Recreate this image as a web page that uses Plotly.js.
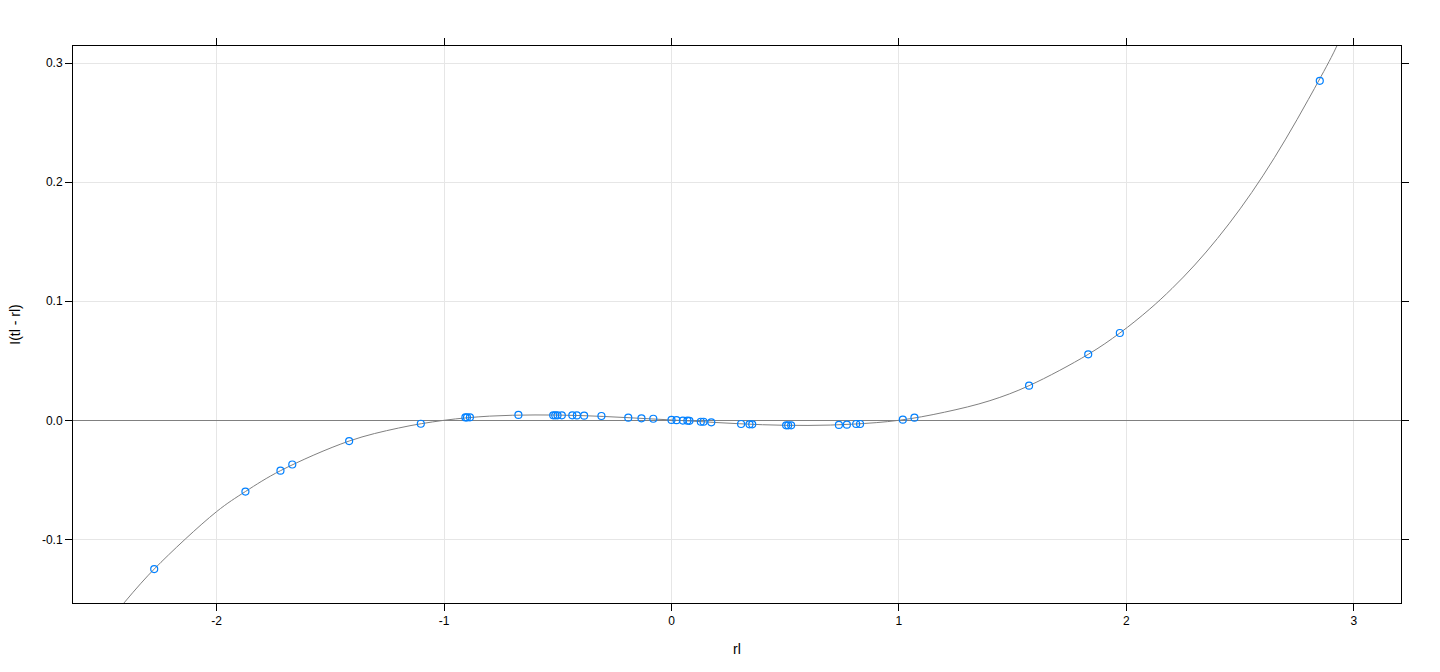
<!DOCTYPE html>
<html>
<head>
<meta charset="utf-8">
<script src="https://cdn.plot.ly/plotly-3.0.1.min.js"></script>
<style>html,body{margin:0;padding:0;background:#fff;}#chart{width:1440px;height:672px;}</style>
</head>
<body>
<div id="chart"></div>
<script>
// Observed points (rl, I(tl - rl))
var point_x = [-2.274, -1.873, -1.719, -1.667, -1.417, -1.102, -0.906, -0.899, -0.886, -0.673,
  -0.520, -0.511, -0.501, -0.482, -0.436, -0.416, -0.384, -0.308, -0.190, -0.132,
  -0.080, 0.000, 0.022, 0.050, 0.070, 0.079, 0.129, 0.141, 0.175, 0.306,
  0.343, 0.355, 0.504, 0.513, 0.526, 0.736, 0.771, 0.812, 0.829, 1.017,
  1.068, 1.572, 1.832, 1.971, 2.850];
var point_y = [-0.1249, -0.0598, -0.0423, -0.0371, -0.0174, -0.0029, 0.0024, 0.0024, 0.0025, 0.0045,
  0.0042, 0.0042, 0.0042, 0.0042, 0.0042, 0.0041, 0.0039, 0.0036, 0.0022, 0.0017,
  0.0013, 0.0003, 0.0001, -0.0002, -0.0003, -0.0004, -0.0012, -0.0012, -0.0017, -0.0031,
  -0.0034, -0.0034, -0.0042, -0.0042, -0.0042, -0.0039, -0.0037, -0.0031, -0.0031, 0.0005,
  0.0022, 0.0291, 0.0554, 0.0733, 0.2851];

// Fitted curve
var curve_x = [-2.407, -2.274, -2.0, -1.873, -1.719, -1.417, -1.2, -1.0, -0.8, -0.6,
  -0.4, -0.2, 0.0, 0.2, 0.4, 0.6, 0.8, 1.0, 1.2, 1.4,
  1.572, 1.832, 1.971, 2.1, 2.2, 2.3, 2.4, 2.5, 2.6, 2.7,
  2.8, 2.9, 2.925];
var curve_y = [-0.1534, -0.1249, -0.0767, -0.0598, -0.0423, -0.0174, -0.0065, 0.0000, 0.0035, 0.0045,
  0.0040, 0.0023, 0.0003, -0.0019, -0.0037, -0.0043, -0.0032, 0.0000, 0.0068, 0.0165,
  0.0291, 0.0554, 0.0733, 0.0930, 0.1106, 0.1304, 0.1527, 0.1776, 0.2053, 0.2361,
  0.2695, 0.3046, 0.3143];

var x_ticks = [-2, -1, 0, 1, 2, 3];
var x_tick_labels = ['-2', '-1', '0', '1', '2', '3'];
var y_ticks = [-0.1, 0.0, 0.1, 0.2, 0.3];
var y_tick_labels = ['-0.1', '0.0', '0.1', '0.2', '0.3'];

var traces = [
  {
    x: curve_x, y: curve_y, type: 'scatter', mode: 'lines',
    line: {color: '#808080', width: 1, shape: 'spline', smoothing: 1},
    hoverinfo: 'skip', showlegend: false
  },
  {
    x: point_x, y: point_y, type: 'scatter', mode: 'markers',
    marker: {symbol: 'circle-open', size: 7, color: '#0080ff', line: {width: 1.2, color: '#0080ff'}},
    showlegend: false
  }
];

var layout = {
  width: 1440, height: 672,
  margin: {l: 73, r: 39, t: 46, b: 69, pad: 0},
  paper_bgcolor: '#ffffff', plot_bgcolor: '#ffffff',
  font: {family: 'Liberation Sans, Arial, sans-serif', size: 12, color: '#000000'},
  showlegend: false,
  xaxis: {
    range: [-2.631, 3.207], tickmode: 'array', tickvals: x_ticks, ticktext: x_tick_labels,
    ticks: 'outside', ticklen: 7, tickwidth: 1, tickcolor: '#000000',
    showline: true, linecolor: '#000000', linewidth: 1, mirror: 'allticks',
    showgrid: true, gridcolor: '#e6e6e6', gridwidth: 1, zeroline: false,
    tickfont: {size: 12},
    title: {text: 'rl', font: {size: 14}, standoff: 16}
  },
  yaxis: {
    range: [-0.1534, 0.3143], tickmode: 'array', tickvals: y_ticks, ticktext: y_tick_labels,
    ticks: 'outside', ticklen: 7, tickwidth: 1, tickcolor: '#000000',
    showline: true, linecolor: '#000000', linewidth: 1, mirror: 'allticks',
    showgrid: true, gridcolor: '#e6e6e6', gridwidth: 1,
    zeroline: true, zerolinecolor: '#808080', zerolinewidth: 1,
    tickfont: {size: 12},
    title: {text: 'I(tl - rl)', font: {size: 14}, standoff: 18}
  }
};

Plotly.newPlot('chart', traces, layout, {displayModeBar: false, staticPlot: true});
</script>
</body>
</html>
